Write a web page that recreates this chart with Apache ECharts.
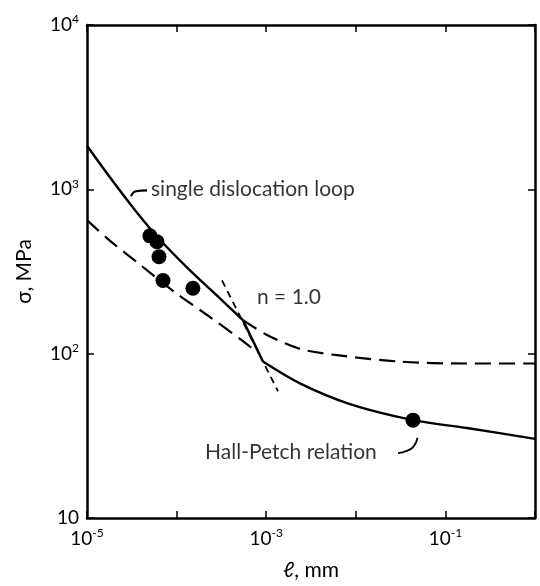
<!DOCTYPE html>
<html>
<head>
<meta charset="utf-8">
<script src="https://cdn.jsdelivr.net/npm/echarts@6/dist/echarts.min.js"></script>
<style>html,body{margin:0;padding:0;background:#fff}#c{width:540px;height:586px}</style>
</head>
<body>
<div id="c"></div>
<script>
// grain size l (mm) and stress sigma (MPa)
const loopX = [1e-5, 1.81e-5, 3.44e-5, 6.53e-5, 1.41e-4, 3.05e-4, 5.5e-4];
const loopY = [1841, 1180, 747, 493, 321, 217, 160];
const kinkX = [5.5e-4, 9.2e-4];
const kinkY = [160, 89.5];
const hpX = [9.2e-4, 2.38e-3, 8.6e-3, 0.0435, 0.174, 1];
const hpY = [89.5, 65.9, 49.3, 39.4, 35.3, 30.3];
const dashLowX = [1e-5, 1.81e-5, 3.91e-5, 9.6e-5, 2.36e-4, 5.1e-4, 8.1e-4];
const dashLowY = [650, 486, 348, 236, 167, 123, 101];
const dashHighX = [5.5e-4, 1.02e-3, 2.38e-3, 5.57e-3, 0.0311, 0.174, 1];
const dashHighY = [160, 130, 107, 98.6, 89.5, 87.1, 87.1];
const nLineX = [3.21e-4, 1.355e-3];
const nLineY = [279, 59.0];
const dotsX = [5.04e-5, 6.04e-5, 6.36e-5, 7.05e-5, 1.52e-4, 0.0435];
const dotsY = [521, 480, 389, 279, 250, 39.4];
// annotation anchors (data coords)
const labelTexts = ['single dislocation loop', 'n = 1.0', 'Hall-Petch relation'];
const labelX = [5.18e-5, 7.9e-4, 2.08e-4];
const labelY = [1000, 220, 25.3];
const arrow1X = [3.10e-5, 3.52e-5, 4.68e-5];
const arrow1Y = [908, 973, 986];
const arrow2X = [0.0296, 0.0370, 0.0440, 0.0490];
const arrow2Y = [24.8, 25.6, 27.2, 30.8];

const zip = (a, b) => a.map((v, i) => [v, b[i]]);
const FONT = 'Lato, "Open Sans", sans-serif';
const supLabel = (v, showOdd) => {
  const e = Math.round(Math.log10(v));
  if (showOdd && e % 2 === 0) return '';
  if (e === 1 && !showOdd) return '{b|10}';
  return '{b|10}{s|' + e + '}';
};
const rich = {
  b: {fontSize: 19, fontFamily: FONT, color: '#000'},
  s: {fontSize: 12, fontFamily: FONT, color: '#000', verticalAlign: 'bottom', padding: [0, 0, 11, 0]}
};
const axisLineStyle = {lineStyle: {color: '#000', width: 2.5}};
const tick = {show: true, inside: true, length: 7, lineStyle: {color: '#000', width: 1.5}};
const curve = (x, y, extra) => Object.assign({type: 'line', data: zip(x, y), smooth: 0.3, symbol: 'none'}, extra);

const chart = echarts.init(document.getElementById('c'));
chart.setOption({
  animation: false,
  backgroundColor: '#fff',
  grid: {left: 87, right: 5, top: 25, bottom: 63},
  xAxis: [{
    type: 'log', logBase: 10, min: 1e-5, max: 1,
    axisLine: axisLineStyle, axisTick: tick, splitLine: {show: false},
    axisLabel: {formatter: v => supLabel(v, true), rich: rich, margin: 9},
    name: 'ℓ, mm', nameLocation: 'middle', nameGap: 42,
    nameTextStyle: {fontSize: 21, fontFamily: FONT, color: '#000'}
  }, {
    type: 'log', logBase: 10, min: 1e-5, max: 1, position: 'top',
    axisLine: axisLineStyle, axisTick: tick, axisLabel: {show: false}, splitLine: {show: false}
  }],
  yAxis: [{
    type: 'log', logBase: 10, min: 10, max: 1e4,
    axisLine: axisLineStyle, axisTick: tick, splitLine: {show: false},
    axisLabel: {formatter: v => supLabel(v, false), rich: rich, margin: 8},
    name: 'σ, MPa', nameLocation: 'middle', nameGap: 52, nameRotate: 90,
    nameTextStyle: {fontSize: 21, fontFamily: FONT, color: '#000'}
  }, {
    type: 'log', logBase: 10, min: 10, max: 1e4, position: 'right',
    axisLine: axisLineStyle, axisTick: tick, axisLabel: {show: false}, splitLine: {show: false}
  }],
  series: [
    curve(loopX, loopY, {lineStyle: {color: '#000', width: 2.4}}),
    curve(kinkX, kinkY, {smooth: false, lineStyle: {color: '#000', width: 2.4}}),
    curve(hpX, hpY, {lineStyle: {color: '#000', width: 2.4}}),
    curve(dashLowX, dashLowY, {lineStyle: {color: '#000', width: 2.2, type: [16, 8]}}),
    curve(dashHighX, dashHighY, {lineStyle: {color: '#000', width: 2.2, type: [16, 8]}}),
    curve(nLineX, nLineY, {smooth: false, lineStyle: {color: '#000', width: 1.8, type: [7, 5]}}),
    {type: 'scatter', data: zip(dotsX, dotsY), symbol: 'circle', symbolSize: 15, itemStyle: {color: '#000', opacity: 1}, z: 5},
    curve(arrow1X, arrow1Y, {smooth: true, lineStyle: {color: '#000', width: 2.2}}),
    curve(arrow2X, arrow2Y, {smooth: true, lineStyle: {color: '#000', width: 1.8}}),
    {type: 'scatter', symbolSize: 0, silent: true,
      data: labelTexts.map((t, i) => ({value: [labelX[i], labelY[i]], name: t})),
      label: {show: true, position: 'right', distance: 0, formatter: p => p.name,
        fontSize: 21, fontFamily: FONT, color: '#000', align: 'left', verticalAlign: 'middle'}}
  ]
});
</script>
</body>
</html>
